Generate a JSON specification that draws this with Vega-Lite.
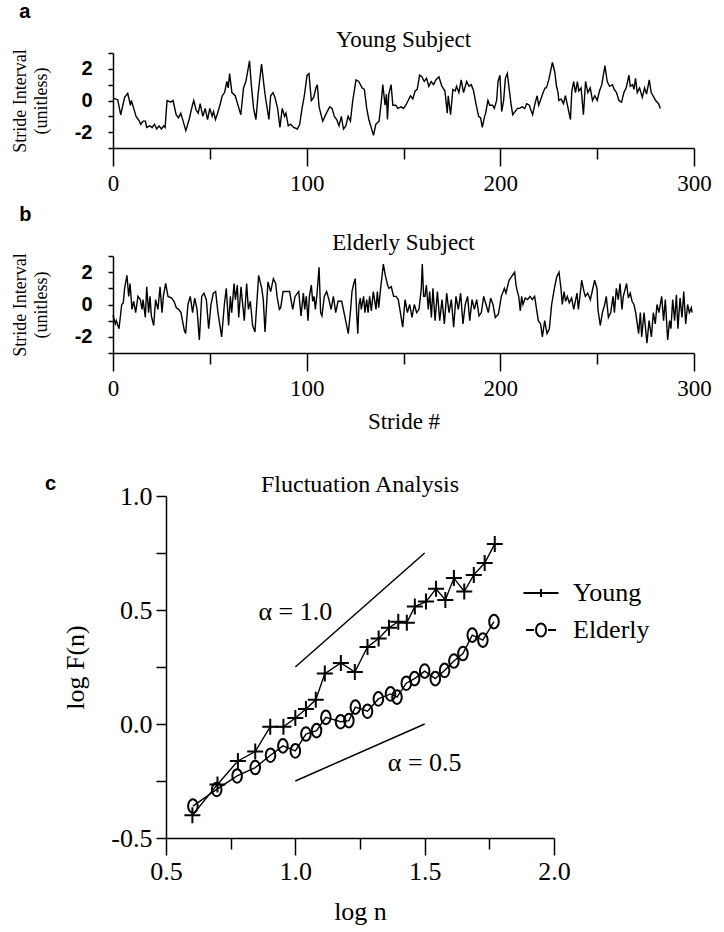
{
"$schema": "https://vega.github.io/schema/vega-lite/v6.json",
"background": "white",
"padding": {"left": 10, "top": 2, "right": 4, "bottom": 4},
"config": {
  "view": {"stroke": null},
  "axis": {"domainColor": "black", "tickColor": "black", "labelColor": "black", "titleColor": "black", "grid": false, "domainWidth": 1.5, "tickWidth": 1.5, "labelFont": "Liberation Serif", "titleFont": "Liberation Serif", "titleFontWeight": "normal", "labelFlush": false, "labelOverlap": false},
  "title": {"font": "Liberation Serif", "fontWeight": "normal", "color": "black"}
},
"datasets": {
 "young": [
{"s":0,"v":0.15},{"s":1.2,"v":0.1},{"s":2.4,"v":0.05},{"s":4,"v":-0.9},{"s":6,"v":0.2},{"s":7.6,"v":0.45},{"s":9,"v":-0.3},{"s":9.5,"v":0.0},{"s":10.7,"v":-0.5},{"s":11.9,"v":-1.0},{"s":13.6,"v":-1.3},{"s":14.3,"v":-1.5},{"s":15.5,"v":-1.3},{"s":16.7,"v":-1.3},{"s":17.4,"v":-1.7},{"s":19,"v":-1.6},{"s":20.2,"v":-1.7},{"s":21.4,"v":-1.5},{"s":22.6,"v":-1.8},{"s":23.8,"v":-1.6},{"s":25,"v":-1.8},{"s":26.2,"v":-1.6},{"s":26.9,"v":-1.7},{"s":27.9,"v":0.0},{"s":29.8,"v":-0.1},{"s":31,"v":0.0},{"s":32.6,"v":-0.9},{"s":33.8,"v":-1.1},{"s":35,"v":-0.8},{"s":36.2,"v":-1.3},{"s":37.6,"v":-1.9},{"s":39.3,"v":-1.2},{"s":41,"v":-0.3},{"s":41.7,"v":0.0},{"s":42.9,"v":-0.6},{"s":44,"v":-0.8},{"s":45,"v":-0.2},{"s":46.4,"v":-1.0},{"s":47.6,"v":-0.5},{"s":48.8,"v":-1.2},{"s":50,"v":-0.5},{"s":51.2,"v":-1.0},{"s":51.9,"v":-0.7},{"s":52.9,"v":-1.2},{"s":54,"v":-0.8},{"s":55.2,"v":-0.3},{"s":56.4,"v":0.3},{"s":57.6,"v":0.5},{"s":58.8,"v":1.2},{"s":59.5,"v":0.8},{"s":60.2,"v":1.7},{"s":61.4,"v":0.5},{"s":63.1,"v":0.3},{"s":64.8,"v":-0.4},{"s":66,"v":-0.9},{"s":67.4,"v":0.8},{"s":68.6,"v":1.2},{"s":70.5,"v":2.5},{"s":71.4,"v":1.0},{"s":72.6,"v":-0.5},{"s":73.8,"v":-1.2},{"s":75,"v":0.5},{"s":76.7,"v":2.3},{"s":77.9,"v":1.0},{"s":78.6,"v":0.3},{"s":80.5,"v":-1.2},{"s":81.4,"v":0.3},{"s":82.6,"v":0.5},{"s":83.6,"v":0.2},{"s":85,"v":-0.5},{"s":86.2,"v":-1.7},{"s":87.4,"v":-0.5},{"s":88.6,"v":-1.0},{"s":89.3,"v":-0.8},{"s":90.5,"v":-1.6},{"s":91.7,"v":-1.5},{"s":93.3,"v":-1.7},{"s":95.2,"v":-1.8},{"s":96.4,"v":-1.5},{"s":97.6,"v":-0.5},{"s":98.8,"v":0.3},{"s":100.2,"v":1.6},{"s":101.2,"v":1.7},{"s":102.4,"v":0.0},{"s":103.6,"v":0.2},{"s":104.8,"v":0.8},{"s":105.5,"v":1.0},{"s":106.4,"v":-0.4},{"s":108.3,"v":-1.3},{"s":110.2,"v":-0.8},{"s":111.9,"v":-0.4},{"s":113.1,"v":-0.5},{"s":114.3,"v":-1.0},{"s":115.5,"v":-1.2},{"s":116.7,"v":-1.6},{"s":117.9,"v":-1.0},{"s":119,"v":-1.8},{"s":120.2,"v":-1.6},{"s":121.4,"v":-1.0},{"s":122.6,"v":-1.3},{"s":123.8,"v":0.0},{"s":125.5,"v":1.3},{"s":126.9,"v":1.2},{"s":128.6,"v":0.8},{"s":129.8,"v":0.7},{"s":131,"v":-0.5},{"s":132.1,"v":-1.2},{"s":133.3,"v":-1.7},{"s":134.5,"v":-2.2},{"s":135.7,"v":-1.5},{"s":137.4,"v":-1.3},{"s":138.6,"v":0.0},{"s":139.3,"v":1.0},{"s":140.5,"v":-0.3},{"s":141.2,"v":0.4},{"s":141.7,"v":-1.2},{"s":142.4,"v":0.4},{"s":143.6,"v":1.0},{"s":144.5,"v":-0.3},{"s":146,"v":-0.3},{"s":147.1,"v":-0.5},{"s":148.8,"v":-0.4},{"s":150,"v":-0.5},{"s":151.2,"v":-0.3},{"s":152.4,"v":0.0},{"s":153.6,"v":0.3},{"s":154.8,"v":0.1},{"s":156,"v":0.6},{"s":157.1,"v":0.7},{"s":158.3,"v":1.6},{"s":159.5,"v":1.5},{"s":160.7,"v":1.2},{"s":161.9,"v":1.4},{"s":163.1,"v":0.9},{"s":164.3,"v":1.2},{"s":165.5,"v":1.0},{"s":166.7,"v":1.3},{"s":168.3,"v":1.5},{"s":169.8,"v":0.9},{"s":171.4,"v":0.6},{"s":172.6,"v":-0.8},{"s":173.1,"v":0.3},{"s":174.3,"v":-0.9},{"s":175.5,"v":0.7},{"s":176.7,"v":0.6},{"s":177.4,"v":0.9},{"s":178.6,"v":0.5},{"s":179.8,"v":1.3},{"s":181,"v":0.5},{"s":182.6,"v":1.2},{"s":183.8,"v":0.9},{"s":185,"v":1.0},{"s":186.2,"v":0.6},{"s":187.4,"v":-0.2},{"s":188.8,"v":-1.0},{"s":189.8,"v":-1.1},{"s":190.7,"v":-1.7},{"s":191.7,"v":-1.1},{"s":192.4,"v":-0.8},{"s":193.6,"v":0.0},{"s":194.5,"v":-0.3},{"s":196,"v":-0.3},{"s":196.9,"v":-0.5},{"s":198.1,"v":0.0},{"s":198.8,"v":1.2},{"s":199.8,"v":1.6},{"s":200.7,"v":-0.7},{"s":201.7,"v":0.0},{"s":202.6,"v":1.4},{"s":203.6,"v":1.7},{"s":204.5,"v":0.8},{"s":205.5,"v":-0.2},{"s":206.4,"v":-0.9},{"s":207.6,"v":-0.7},{"s":208.8,"v":-0.5},{"s":210,"v":-0.5},{"s":211.2,"v":-0.4},{"s":212.6,"v":-0.5},{"s":213.6,"v":-0.2},{"s":215,"v":-0.3},{"s":215.5,"v":-0.5},{"s":216.7,"v":-0.9},{"s":217.9,"v":-0.2},{"s":219,"v":0.3},{"s":219.8,"v":-0.3},{"s":220.7,"v":0.0},{"s":222.1,"v":0.5},{"s":223.1,"v":0.8},{"s":223.8,"v":0.8},{"s":225,"v":1.3},{"s":226.9,"v":2.4},{"s":228.1,"v":1.8},{"s":229,"v":0.9},{"s":229.8,"v":0.5},{"s":230.2,"v":0.0},{"s":231.4,"v":0.1},{"s":232.6,"v":-0.2},{"s":233.6,"v":0.3},{"s":235,"v":-0.5},{"s":236.2,"v":-1.2},{"s":236.9,"v":0.6},{"s":237.9,"v":1.2},{"s":238.8,"v":0.5},{"s":239.8,"v":1.2},{"s":240.5,"v":0.6},{"s":241.7,"v":0.8},{"s":242.9,"v":-0.9},{"s":244,"v":1.2},{"s":245.2,"v":0.5},{"s":246.4,"v":0.8},{"s":247.6,"v":0.0},{"s":248.8,"v":0.3},{"s":250,"v":0.0},{"s":251.2,"v":0.6},{"s":252.4,"v":1.0},{"s":254,"v":2.2},{"s":255.2,"v":1.2},{"s":256.4,"v":0.9},{"s":257.9,"v":1.0},{"s":258.8,"v":0.7},{"s":260,"v":0.5},{"s":261.2,"v":0.0},{"s":262.6,"v":-0.1},{"s":263.8,"v":0.5},{"s":265,"v":0.8},{"s":266.4,"v":1.6},{"s":267.1,"v":0.9},{"s":268.3,"v":1.0},{"s":269,"v":0.7},{"s":269.8,"v":1.4},{"s":270.7,"v":0.5},{"s":271.9,"v":0.8},{"s":273.3,"v":0.2},{"s":274.5,"v":0.8},{"s":275.5,"v":0.4},{"s":276.9,"v":1.3},{"s":277.9,"v":0.5},{"s":279.3,"v":0.2},{"s":280.2,"v":0.0},{"s":281.7,"v":-0.2},{"s":282.6,"v":-0.5}
 ],
 "elderly": [
{"s":0.0,"v":-0.65},{"s":1.2,"v":-1.2},{"s":1.7,"v":-1.0},{"s":3.1,"v":-1.5},{"s":4.5,"v":0.0},{"s":5.3,"v":0.1},{"s":6.0,"v":1.0},{"s":7.2,"v":1.8},{"s":8.1,"v":0.5},{"s":8.8,"v":1.3},{"s":9.8,"v":-0.3},{"s":10.7,"v":0.2},{"s":11.7,"v":-0.5},{"s":12.9,"v":0.5},{"s":14.1,"v":0.3},{"s":15.0,"v":-0.3},{"s":15.5,"v":0.3},{"s":16.7,"v":-0.8},{"s":17.4,"v":1.1},{"s":18.4,"v":-0.5},{"s":19.1,"v":0.5},{"s":19.8,"v":-0.7},{"s":21.0,"v":-1.3},{"s":22.0,"v":0.3},{"s":23.2,"v":-0.3},{"s":24.3,"v":1.1},{"s":25.3,"v":-0.5},{"s":26.0,"v":0.5},{"s":27.2,"v":1.3},{"s":28.4,"v":0.5},{"s":30.3,"v":0.4},{"s":31.5,"v":0.2},{"s":32.7,"v":-0.2},{"s":33.9,"v":-0.3},{"s":35.1,"v":-0.5},{"s":36.8,"v":-1.6},{"s":37.5,"v":-1.8},{"s":38.7,"v":0.0},{"s":39.9,"v":0.5},{"s":41.1,"v":-0.5},{"s":42.2,"v":0.4},{"s":43.4,"v":-0.3},{"s":44.6,"v":-2.2},{"s":45.8,"v":0.5},{"s":47.0,"v":0.7},{"s":48.2,"v":0.3},{"s":49.4,"v":-1.5},{"s":50.6,"v":0.0},{"s":51.8,"v":0.7},{"s":53.0,"v":0.8},{"s":54.2,"v":-0.5},{"s":56.1,"v":-2.0},{"s":57.5,"v":0.0},{"s":58.5,"v":1.0},{"s":59.7,"v":-1.3},{"s":60.6,"v":0.5},{"s":61.3,"v":-0.5},{"s":62.5,"v":1.3},{"s":63.2,"v":0.3},{"s":64.2,"v":1.2},{"s":64.9,"v":-0.8},{"s":66.1,"v":1.1},{"s":66.8,"v":0.2},{"s":67.8,"v":-1.0},{"s":69.0,"v":1.3},{"s":69.9,"v":-0.3},{"s":70.9,"v":0.2},{"s":72.1,"v":-1.3},{"s":73.3,"v":-1.7},{"s":75.2,"v":1.8},{"s":76.8,"v":1.0},{"s":77.6,"v":0.3},{"s":78.5,"v":-1.7},{"s":80.0,"v":1.4},{"s":81.4,"v":0.8},{"s":82.8,"v":1.6},{"s":84.0,"v":1.3},{"s":84.7,"v":0.5},{"s":85.9,"v":-0.3},{"s":86.6,"v":-0.2},{"s":87.8,"v":0.8},{"s":89.5,"v":0.8},{"s":91.2,"v":0.8},{"s":91.9,"v":0.3},{"s":92.8,"v":-0.3},{"s":94.0,"v":0.5},{"s":95.9,"v":0.8},{"s":97.1,"v":-0.7},{"s":98.3,"v":0.7},{"s":99.0,"v":-0.3},{"s":99.8,"v":0.5},{"s":100.7,"v":-1.0},{"s":101.4,"v":0.5},{"s":102.4,"v":1.2},{"s":103.1,"v":0.2},{"s":103.8,"v":0.5},{"s":104.5,"v":-0.3},{"s":105.3,"v":0.6},{"s":106.4,"v":2.3},{"s":107.2,"v":-0.5},{"s":107.9,"v":-0.7},{"s":109.1,"v":0.5},{"s":110.3,"v":0.8},{"s":111.5,"v":0.3},{"s":112.6,"v":-0.3},{"s":113.8,"v":0.5},{"s":115.0,"v":-0.5},{"s":116.2,"v":0.2},{"s":118.1,"v":0.2},{"s":121.5,"v":-1.8},{"s":122.7,"v":-0.3},{"s":123.4,"v":0.8},{"s":124.3,"v":1.3},{"s":125.1,"v":1.6},{"s":125.8,"v":-0.5},{"s":126.4,"v":-1.8},{"s":127.0,"v":0.0},{"s":127.7,"v":0.4},{"s":128.2,"v":-0.3},{"s":129.4,"v":0.5},{"s":130.1,"v":-0.5},{"s":131.0,"v":0.3},{"s":131.7,"v":-0.5},{"s":132.5,"v":0.5},{"s":133.4,"v":-0.4},{"s":134.4,"v":0.8},{"s":135.8,"v":-0.3},{"s":136.5,"v":0.8},{"s":137.2,"v":-0.2},{"s":138.2,"v":1.0},{"s":139.6,"v":2.5},{"s":140.6,"v":1.8},{"s":141.8,"v":1.2},{"s":142.5,"v":1.0},{"s":143.7,"v":1.1},{"s":144.9,"v":0.5},{"s":146.1,"v":0.5},{"s":147.3,"v":0.3},{"s":148.4,"v":-0.5},{"s":149.6,"v":-1.4},{"s":150.8,"v":0.3},{"s":152.0,"v":-0.5},{"s":153.2,"v":0.0},{"s":154.4,"v":-0.8},{"s":155.6,"v":0.0},{"s":156.8,"v":-0.5},{"s":158.0,"v":-0.3},{"s":159.2,"v":1.0},{"s":159.7,"v":2.5},{"s":160.4,"v":0.5},{"s":161.1,"v":0.5},{"s":161.8,"v":1.2},{"s":162.8,"v":-0.3},{"s":163.5,"v":0.8},{"s":164.4,"v":-0.8},{"s":165.2,"v":1.0},{"s":166.3,"v":-1.0},{"s":167.5,"v":0.8},{"s":168.7,"v":-1.0},{"s":169.9,"v":0.3},{"s":171.1,"v":-1.2},{"s":172.3,"v":0.7},{"s":173.5,"v":-0.5},{"s":174.7,"v":0.3},{"s":175.9,"v":-1.4},{"s":177.1,"v":0.5},{"s":178.3,"v":-0.3},{"s":179.5,"v":0.7},{"s":180.7,"v":-1.2},{"s":181.9,"v":0.0},{"s":183.1,"v":0.5},{"s":184.2,"v":-1.0},{"s":185.4,"v":0.3},{"s":186.6,"v":-0.3},{"s":187.8,"v":0.3},{"s":189.0,"v":-0.7},{"s":190.2,"v":-0.5},{"s":191.4,"v":0.5},{"s":192.6,"v":0.0},{"s":193.8,"v":-0.5},{"s":195.0,"v":0.4},{"s":196.2,"v":0.0},{"s":197.4,"v":-0.8},{"s":199.0,"v":-0.6},{"s":200.5,"v":0.5},{"s":202.1,"v":1.0},{"s":202.9,"v":0.7},{"s":204.5,"v":1.5},{"s":207.4,"v":2.0},{"s":208.1,"v":1.2},{"s":208.8,"v":0.8},{"s":209.5,"v":0.5},{"s":210.3,"v":-0.4},{"s":211.0,"v":0.5},{"s":211.7,"v":0.0},{"s":212.9,"v":0.4},{"s":214.1,"v":0.3},{"s":215.3,"v":0.5},{"s":216.5,"v":0.3},{"s":217.7,"v":0.5},{"s":219.6,"v":-1.0},{"s":220.8,"v":-1.2},{"s":221.7,"v":-2.0},{"s":222.9,"v":-1.0},{"s":224.1,"v":-1.8},{"s":225.3,"v":-1.5},{"s":226.5,"v":0.0},{"s":227.9,"v":1.0},{"s":229.1,"v":1.7},{"s":230.3,"v":2.0},{"s":231.3,"v":1.0},{"s":232.0,"v":0.0},{"s":232.9,"v":0.8},{"s":233.7,"v":0.2},{"s":234.6,"v":0.5},{"s":235.6,"v":0.1},{"s":236.8,"v":0.4},{"s":237.9,"v":-0.3},{"s":238.9,"v":0.3},{"s":239.6,"v":0.7},{"s":240.3,"v":-0.3},{"s":241.1,"v":0.5},{"s":242.0,"v":1.5},{"s":243.2,"v":0.8},{"s":243.9,"v":0.5},{"s":245.1,"v":0.7},{"s":246.5,"v":0.3},{"s":248.7,"v":1.5},{"s":249.9,"v":1.0},{"s":250.4,"v":-0.3},{"s":251.6,"v":-1.3},{"s":252.7,"v":-0.5},{"s":253.9,"v":0.0},{"s":254.7,"v":0.5},{"s":255.8,"v":-0.8},{"s":257.0,"v":-0.5},{"s":258.2,"v":0.5},{"s":258.9,"v":-0.5},{"s":259.9,"v":1.0},{"s":260.9,"v":0.3},{"s":261.8,"v":1.3},{"s":262.8,"v":-0.3},{"s":263.5,"v":0.5},{"s":265.2,"v":1.3},{"s":266.1,"v":0.4},{"s":267.1,"v":0.7},{"s":268.0,"v":0.2},{"s":269.0,"v":0.0},{"s":269.9,"v":-0.5},{"s":271.4,"v":-1.8},{"s":272.3,"v":-0.5},{"s":273.0,"v":-2.0},{"s":274.2,"v":-0.5},{"s":275.7,"v":-2.4},{"s":276.8,"v":-1.0},{"s":278.0,"v":-2.0},{"s":279.0,"v":-0.5},{"s":280.0,"v":-1.2},{"s":280.9,"v":0.0},{"s":281.9,"v":-0.5},{"s":283.3,"v":0.5},{"s":284.3,"v":-1.0},{"s":285.2,"v":0.3},{"s":286.4,"v":-2.2},{"s":287.4,"v":-1.0},{"s":288.1,"v":-1.5},{"s":289.0,"v":0.3},{"s":290.0,"v":-1.0},{"s":290.9,"v":0.6},{"s":291.7,"v":-1.5},{"s":292.8,"v":0.4},{"s":293.8,"v":-0.8},{"s":294.7,"v":0.8},{"s":295.7,"v":-1.2},{"s":296.7,"v":0.0},{"s":297.6,"v":-0.5},{"s":298.6,"v":-0.2},{"s":299.0,"v":-0.5}
 ],
 "fa": [
{"series":"Young","logn":0.602,"logF":-0.40},{"series":"Young","logn":0.699,"logF":-0.265},{"series":"Young","logn":0.778,"logF":-0.162},{"series":"Young","logn":0.845,"logF":-0.121},{"series":"Young","logn":0.903,"logF":-0.012},{"series":"Young","logn":0.954,"logF":-0.012},{"series":"Young","logn":1.0,"logF":0.026},{"series":"Young","logn":1.041,"logF":0.066},{"series":"Young","logn":1.079,"logF":0.106},{"series":"Young","logn":1.114,"logF":0.221},{"series":"Young","logn":1.176,"logF":0.268},{"series":"Young","logn":1.230,"logF":0.228},{"series":"Young","logn":1.279,"logF":0.338},{"series":"Young","logn":1.322,"logF":0.375},{"series":"Young","logn":1.362,"logF":0.422},{"series":"Young","logn":1.398,"logF":0.449},{"series":"Young","logn":1.431,"logF":0.444},{"series":"Young","logn":1.462,"logF":0.515},{"series":"Young","logn":1.505,"logF":0.537},{"series":"Young","logn":1.544,"logF":0.593},{"series":"Young","logn":1.580,"logF":0.544},{"series":"Young","logn":1.613,"logF":0.640},{"series":"Young","logn":1.653,"logF":0.581},{"series":"Young","logn":1.690,"logF":0.654},{"series":"Young","logn":1.732,"logF":0.706},{"series":"Young","logn":1.771,"logF":0.790},
{"series":"Elderly","logn":0.604,"logF":-0.36},{"series":"Elderly","logn":0.696,"logF":-0.287},{"series":"Elderly","logn":0.775,"logF":-0.228},{"series":"Elderly","logn":0.845,"logF":-0.191},{"series":"Elderly","logn":0.904,"logF":-0.137},{"series":"Elderly","logn":0.952,"logF":-0.096},{"series":"Elderly","logn":1.0,"logF":-0.118},{"series":"Elderly","logn":1.041,"logF":-0.044},{"series":"Elderly","logn":1.082,"logF":-0.029},{"series":"Elderly","logn":1.118,"logF":0.029},{"series":"Elderly","logn":1.175,"logF":0.010},{"series":"Elderly","logn":1.207,"logF":0.015},{"series":"Elderly","logn":1.232,"logF":0.074},{"series":"Elderly","logn":1.279,"logF":0.056},{"series":"Elderly","logn":1.321,"logF":0.110},{"series":"Elderly","logn":1.368,"logF":0.132},{"series":"Elderly","logn":1.393,"logF":0.118},{"series":"Elderly","logn":1.429,"logF":0.179},{"series":"Elderly","logn":1.461,"logF":0.199},{"series":"Elderly","logn":1.500,"logF":0.232},{"series":"Elderly","logn":1.541,"logF":0.199},{"series":"Elderly","logn":1.577,"logF":0.235},{"series":"Elderly","logn":1.613,"logF":0.276},{"series":"Elderly","logn":1.648,"logF":0.309},{"series":"Elderly","logn":1.684,"logF":0.390},{"series":"Elderly","logn":1.725,"logF":0.368},{"series":"Elderly","logn":1.768,"logF":0.449}
 ]
},
"vconcat": [
 {
  "spacing": 0,
  "hconcat": [
   {"width": 1, "height": 1, "data": {"values": []}, "mark": {"type": "point", "opacity": 0}, "encoding": {}},
   {
    "spacing": 10,
    "vconcat": [
     {
      "title": {"text": "a", "anchor": "start", "font": "Liberation Sans", "fontWeight": "bold", "fontSize": 20, "offset": 7, "dx": 8},
      "vconcat": [{
       "width": 581, "height": 95,
       "title": {"text": "Young Subject", "fontSize": 23, "offset": -9},
       "data": {"name": "young"},
       "mark": {"type": "line", "color": "black", "strokeWidth": 1.4},
       "encoding": {
        "x": {"field": "s", "type": "quantitative", "scale": {"domain": [0, 300], "nice": false, "zero": false},
          "axis": {"values": [0, 50, 100, 150, 200, 250, 300], "labelExpr": "datum.value % 100 === 0 ? datum.label : ''", "tickSize": {"condition": {"test": "datum.value % 100 === 0", "value": 18}, "value": 11}, "labelFontSize": 23, "labelPadding": 6, "title": null}},
        "y": {"field": "v", "type": "quantitative", "scale": {"domain": [-3, 3], "nice": false},
          "axis": {"values": [-3, -2, -1, 0, 1, 2, 3], "labelExpr": "datum.value === 0 ? '0' : datum.value === 2 ? '2' : datum.value === -2 ? '-2' : ''", "labelFont": "Liberation Sans", "labelFontWeight": "bold", "labelFontSize": 20, "tickSize": 5, "labelPadding": 16, "title": ["Stride Interval", "(unitless)"], "titleFontSize": 18, "titlePadding": 24, "titleLineHeight": 21}}
       }
      }]
     },
     {
      "title": {"text": "b", "anchor": "start", "font": "Liberation Sans", "fontWeight": "bold", "fontSize": 20, "offset": 7, "dx": 8},
      "vconcat": [{
       "width": 581, "height": 97,
       "title": {"text": "Elderly Subject", "fontSize": 23, "offset": -9},
       "data": {"name": "elderly"},
       "mark": {"type": "line", "color": "black", "strokeWidth": 1.4},
       "encoding": {
        "x": {"field": "s", "type": "quantitative", "scale": {"domain": [0, 300], "nice": false, "zero": false},
          "axis": {"values": [0, 50, 100, 150, 200, 250, 300], "labelExpr": "datum.value % 100 === 0 ? datum.label : ''", "tickSize": {"condition": {"test": "datum.value % 100 === 0", "value": 18}, "value": 11}, "labelFontSize": 23, "labelPadding": 6, "title": "Stride #", "titleFontSize": 23, "titlePadding": 10}},
        "y": {"field": "v", "type": "quantitative", "scale": {"domain": [-3, 3], "nice": false},
          "axis": {"values": [-3, -2, -1, 0, 1, 2, 3], "labelExpr": "datum.value === 0 ? '0' : datum.value === 2 ? '2' : datum.value === -2 ? '-2' : ''", "labelFont": "Liberation Sans", "labelFontWeight": "bold", "labelFontSize": 20, "tickSize": 5, "labelPadding": 16, "title": ["Stride Interval", "(unitless)"], "titleFontSize": 18, "titlePadding": 24, "titleLineHeight": 21}}
       }
      }]
     }
    ]
   }
  ]
 },
 {
  "spacing": 0,
  "resolve": {"scale": {"shape": "independent"}, "legend": {"shape": "independent"}},
  "hconcat": [
   {
    "width": 52, "height": 342,
    "title": {"text": "c", "anchor": "start", "font": "Liberation Sans", "fontWeight": "bold", "fontSize": 20, "offset": 2, "dx": 35},
    "data": {"values": []},
    "mark": {"type": "point", "opacity": 0},
    "encoding": {}
   },
   {
    "width": 388, "height": 342,
    "title": {"text": "Fluctuation Analysis", "fontSize": 24, "offset": -14},
    "layer": [
     {
      "data": {"values": [
        {"x1": 1.0, "y1": 0.25, "x2": 1.5, "y2": 0.75},
        {"x1": 1.0, "y1": -0.25, "x2": 1.5, "y2": 0.0}
      ]},
      "mark": {"type": "rule", "color": "black", "strokeWidth": 1.5},
      "encoding": {
       "x": {"field": "x1", "type": "quantitative", "title": "log n", "scale": {"domain": [0.5, 2], "nice": false, "zero": false},
         "axis": {"values": [0.5, 0.75, 1, 1.25, 1.5, 1.75, 2], "labelExpr": "datum.value * 2 % 1 === 0 ? format(datum.value, '.1f') : ''", "tickSize": {"condition": {"test": "datum.value * 2 % 1 === 0", "value": 17}, "value": 11}, "labelFontSize": 26, "labelPadding": 3, "titleFontSize": 26, "titlePadding": 14}},
       "y": {"field": "y1", "type": "quantitative", "title": "log F(n)", "scale": {"domain": [-0.5, 1], "nice": false, "zero": false},
         "axis": {"values": [-0.5, -0.25, 0, 0.25, 0.5, 0.75, 1], "labelExpr": "abs(datum.value * 2 % 1) < 0.001 ? replace(format(datum.value, '.1f'), '\u2212', '-') : ''", "tickSize": 10, "labelFontSize": 26, "labelPadding": 4, "titleFontSize": 26, "titlePadding": 22}},
       "x2": {"field": "x2"},
       "y2": {"field": "y2"}
      }
     },
     {
      "data": {"values": [
        {"x": 1.0, "y": 0.49, "label": "\u03b1 = 1.0"},
        {"x": 1.5, "y": -0.17, "label": "\u03b1 = 0.5"}
      ]},
      "mark": {"type": "text", "font": "Liberation Serif", "fontSize": 26, "color": "black", "align": "center", "baseline": "middle"},
      "encoding": {
       "x": {"field": "x", "type": "quantitative", "title": "log n"},
       "y": {"field": "y", "type": "quantitative", "title": "log F(n)"},
       "text": {"field": "label"}
      }
     },
     {
      "data": {"name": "fa"},
      "mark": {"type": "line", "color": "black", "strokeWidth": 1.4},
      "encoding": {
       "x": {"field": "logn", "type": "quantitative", "title": "log n"},
       "y": {"field": "logF", "type": "quantitative", "title": "log F(n)"},
       "detail": {"field": "series", "type": "nominal"}
      }
     },
     {
      "data": {"name": "fa"},
      "transform": [{"filter": "datum.series === 'Young'"}],
      "mark": {"type": "point", "shape": "M-1,0H1M0,-1V1", "filled": false, "color": "black", "strokeWidth": 2, "size": 256, "opacity": 1},
      "encoding": {
       "x": {"field": "logn", "type": "quantitative", "title": "log n"},
       "y": {"field": "logF", "type": "quantitative", "title": "log F(n)"}
      }
     },
     {
      "data": {"name": "fa"},
      "transform": [{"filter": "datum.series === 'Elderly'"}],
      "mark": {"type": "point", "shape": "M0,-0.85A0.6,0.85 0 1,1 0,0.85A0.6,0.85 0 1,1 0,-0.85Z", "filled": false, "color": "black", "strokeWidth": 2, "size": 256, "opacity": 1},
      "encoding": {
       "x": {"field": "logn", "type": "quantitative", "title": "log n"},
       "y": {"field": "logF", "type": "quantitative", "title": "log F(n)"}
      }
     },
     {
      "data": {"name": "fa"},
      "mark": {"type": "point", "filled": false, "color": "black", "strokeWidth": 2, "size": 0},
      "encoding": {
       "x": {"field": "logn", "type": "quantitative", "title": "log n"},
       "y": {"field": "logF", "type": "quantitative", "title": "log F(n)"},
       "shape": {"field": "series", "type": "nominal",
         "scale": {"domain": ["Young", "Elderly"], "range": ["M-1.75,0H1.75M0,-0.4V0.4", "M-1.5,0H-0.7M0.7,0H1.5M0,-0.65A0.5,0.65 0 1,1 0,0.65A0.5,0.65 0 1,1 0,-0.65Z"]},
         "legend": {"title": null, "orient": "none", "legendX": 362, "legendY": 84, "labelFont": "Liberation Serif", "labelFontSize": 26, "labelColor": "black", "symbolSize": 400, "symbolStrokeWidth": 2, "symbolStrokeColor": "black", "symbolFillColor": "transparent", "symbolOpacity": 1, "labelOffset": 19, "rowPadding": 11}
       }
      }
     }
    ]
   }
  ]
 }
],
"spacing": 40,
"resolve": {"scale": {"shape": "independent"}, "legend": {"shape": "independent"}}
}
